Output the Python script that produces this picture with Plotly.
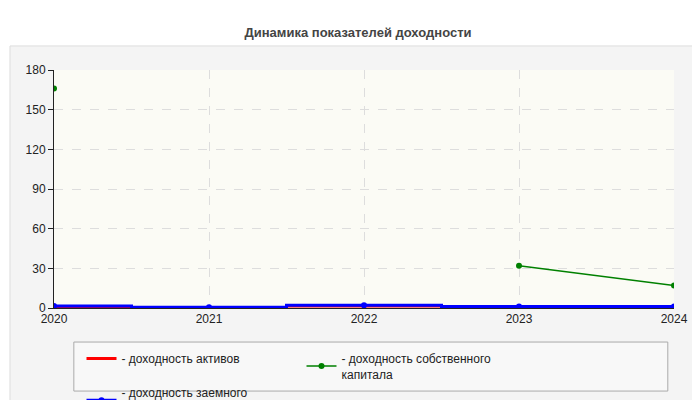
import plotly.graph_objects as go

years = [2020, 2021, 2022, 2023, 2024]
roa = [1.0, 0.3, 1.5, 0.8, 0.8]
roe = [166, None, None, 32, 17]
rod = [1.5, 0.5, 2.0, 1.2, 1.2]

names = ["- доходность активов", "- доходность собственного<br>капитала", "- доходность заемного<br>капитала"]

fig = go.Figure()
fig.add_trace(go.Scatter(x=years, y=roa, name=names[0], mode="lines",
                         line=dict(color="red", width=3, shape="hvh")))
fig.add_trace(go.Scatter(x=years, y=roe, name=names[1], mode="lines+markers",
                         line=dict(color="green", width=1.5), marker=dict(size=6, color="green")))
fig.add_trace(go.Scatter(x=years, y=rod, name=names[2], mode="lines+markers",
                         line=dict(color="blue", width=3, shape="hvh"), marker=dict(size=6, color="blue")))

fig.update_layout(
    width=700, height=400,
    margin=dict(l=46, r=34, t=62, b=100, autoexpand=False),
    paper_bgcolor="white", plot_bgcolor="rgba(0,0,0,0)",
    font=dict(family="Liberation Sans, Arial", size=12, color="#222"),
    title=dict(text="<b>Динамика показателей доходности</b>", x=0.5, y=0.95, xanchor="center",
               font=dict(size=13, color="#444"), automargin=False),
    shapes=[
        dict(type="rect", xref="paper", yref="paper", x0=-0.071, x1=1.048, y0=-0.403, y1=1.101,
             fillcolor="#f4f4f4", line=dict(color="#dddddd", width=1), layer="below"),
        dict(type="rect", xref="paper", yref="paper", x0=0, x1=1, y0=0, y1=1,
             fillcolor="#fbfbf5", line=dict(width=0), layer="below"),
        dict(type="rect", xref="paper", yref="paper", x0=0.032, x1=0.99, y0=-0.349, y1=-0.143,
             fillcolor="#f8f8f8", line=dict(color="#aaaaaa", width=1), layer="below"),
    ],
    legend=dict(orientation="h", xref="container", yref="container", x=0.105, y=0.16,
                xanchor="left", yanchor="top",
                bgcolor="rgba(0,0,0,0)", entrywidth=175, entrywidthmode="pixels",
                font=dict(size=12), itemwidth=30, tracegroupgap=0),
    xaxis=dict(range=[2020, 2024], tickvals=years, showgrid=True, gridcolor="#dddddd", griddash="dash",
               showline=True, linecolor="#222", zeroline=False, ticks="", tickfont=dict(size=12),
               automargin=False),
    yaxis=dict(range=[0, 180], dtick=30, showgrid=True, gridcolor="#dddddd", griddash="dash",
               showline=True, linecolor="#222", ticks="outside", ticklen=5, tickcolor="#222",
               zeroline=False, tickfont=dict(size=12), automargin=False),
)

fig.write_html("out.html")
